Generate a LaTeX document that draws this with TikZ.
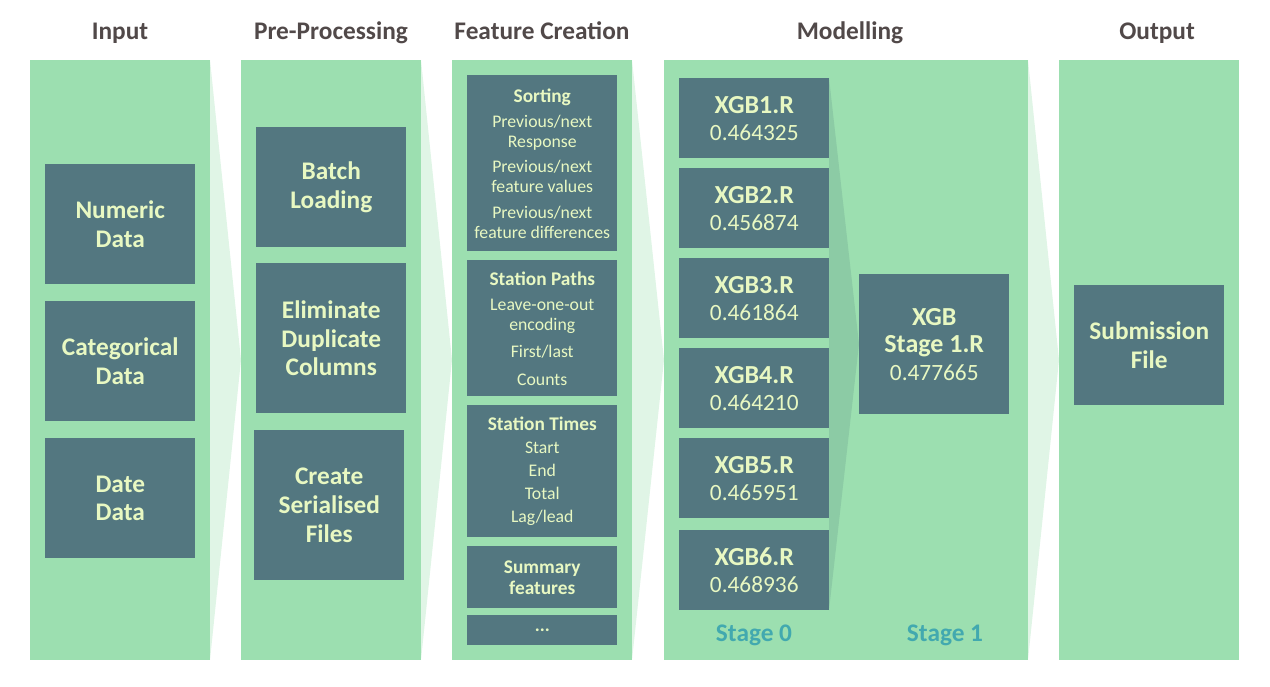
\documentclass[tikz,border=0pt]{standalone}
\usepackage{fontspec}
\setmainfont{Carlito}
\definecolor{colg}{HTML}{9CDFB0}
\definecolor{chevg}{HTML}{E0F5E6}
\definecolor{wedgeg}{HTML}{8CCBA5}
\definecolor{boxc}{HTML}{537780}
\definecolor{cream}{HTML}{E8F8C2}
\definecolor{headc}{HTML}{514949}
\definecolor{stagec}{HTML}{42A9AF}
\begin{document}
\begin{tikzpicture}[x=0.75pt,y=-0.75pt,
  colbg/.style={fill=colg},
  chev/.style={fill=chevg},
  wedge/.style={fill=wedgeg},
  head/.style={text=headc,font=\bfseries\fontsize{19}{22}\selectfont,inner sep=0pt,anchor=base},
  bigbox/.style={fill=boxc,text=cream,font=\bfseries\fontsize{19}{21.5}\selectfont,align=center,inner sep=0pt,minimum width=112.5pt,anchor=north west},
  fbox/.style={fill=boxc,text=cream,font=\fontsize{13.3}{15}\selectfont,align=center,inner sep=0pt,minimum width=112.5pt,anchor=north west},
  xbox/.style={fill=boxc,text=cream,font=\bfseries\fontsize{19.5}{20.5}\selectfont,align=center,inner sep=0pt,minimum width=112.5pt,anchor=north west},
  stagelbl/.style={text=stagec,font=\bfseries\fontsize{19}{20}\selectfont,inner sep=0pt}
]
\useasboundingbox (0,0) rectangle (1270,686);
% columns
\fill[colbg] (30,60) rectangle (210,660);
\fill[colbg] (241,60) rectangle (421,660);
\fill[colbg] (452,60) rectangle (632,660);
\fill[colbg] (664,60) rectangle (1028,660);
\fill[colbg] (1059,60) rectangle (1239,660);
% chevrons
\fill[chev] (210,60) -- (241,360) -- (210,660) -- cycle;
\fill[chev] (421,60) -- (452,360) -- (421,660) -- cycle;
\fill[chev] (632,60) -- (664,360) -- (632,660) -- cycle;
\fill[chev] (1028,60) -- (1059,360) -- (1028,660) -- cycle;
% wedge in modelling
\fill[wedge] (829,78) -- (859,344) -- (829,610) -- cycle;
% headers
\node[head] (h1) at (120,39) {Input};
\node[head] (h2) at (331,39) {Pre-Processing};
\node[head] (h3) at (542,39) {Feature Creation};
\node[head] (h4) at (850,39) {Modelling};
\node[head] (h5) at (1157,39) {Output};
% input
\node[bigbox,minimum height=90pt] (num) at (45,164) {Numeric\\Data};
\node[bigbox,minimum height=90pt] (cat) at (45,301) {Categorical\\Data};
\node[bigbox,minimum height=90pt] (date) at (45,438) {Date\\Data};
% pre-processing
\node[bigbox,minimum height=90pt] (batch) at (256,127) {Batch\\Loading};
\node[bigbox,minimum height=112.5pt] (elim) at (256,263) {Eliminate\\Duplicate\\Columns};
\node[bigbox,minimum height=112.5pt] (ser) at (254,430) {Create\\Serialised\\Files};
% feature creation
\node[fbox,minimum height=132pt] (sort) at (467,75) {{\bfseries\fontsize{14.5}{15}\selectfont Sorting}\\[4pt]Previous/next\\Response\\[4pt]Previous/next\\feature values\\[4pt]Previous/next\\feature differences};
\node[fbox,minimum height=102pt] (paths) at (467,260) {{\bfseries\fontsize{14.5}{15}\selectfont Station Paths}\\[3.75pt]Leave-one-out\\encoding\\[5.25pt]First/last\\[6pt]Counts};
\node[fbox,minimum height=99pt] (times) at (467,405) {{\bfseries\fontsize{14.5}{15}\selectfont Station Times}\\[2.25pt]Start\\[2.25pt]End\\[2.25pt]Total\\[2.25pt]Lag/lead};
\node[fbox,minimum height=46.5pt,font=\bfseries\fontsize{14.5}{15.75}\selectfont] (summ) at (467,546) {Summary\\features};
\node[fbox,minimum height=22.5pt,font=\bfseries\fontsize{14}{15}\selectfont] (dots) at (467,615) {...};
% modelling
\node[xbox,minimum height=60pt] (x1) at (679,78) {XGB1.R\\\mdseries\fontsize{17.5}{20.5}\selectfont 0.464325};
\node[xbox,minimum height=60pt] (x2) at (679,168) {XGB2.R\\\mdseries\fontsize{17.5}{20.5}\selectfont 0.456874};
\node[xbox,minimum height=60pt] (x3) at (679,258) {XGB3.R\\\mdseries\fontsize{17.5}{20.5}\selectfont 0.461864};
\node[xbox,minimum height=60pt] (x4) at (679,348) {XGB4.R\\\mdseries\fontsize{17.5}{20.5}\selectfont 0.464210};
\node[xbox,minimum height=60pt] (x5) at (679,438) {XGB5.R\\\mdseries\fontsize{17.5}{20.5}\selectfont 0.465951};
\node[xbox,minimum height=60pt] (x6) at (679,530) {XGB6.R\\\mdseries\fontsize{17.5}{20.5}\selectfont 0.468936};
\node[xbox,minimum height=105pt] (st1) at (859,274) {XGB\\Stage 1.R\\\mdseries\fontsize{17.5}{20.5}\selectfont 0.477665};
\node[stagelbl] (s0) at (754,635) {Stage 0};
\node[stagelbl] (s1) at (945,635) {Stage 1};
% output
\node[bigbox,minimum height=90pt] (sub) at (1074,285) {Submission\\File};
\end{tikzpicture}
\end{document}
